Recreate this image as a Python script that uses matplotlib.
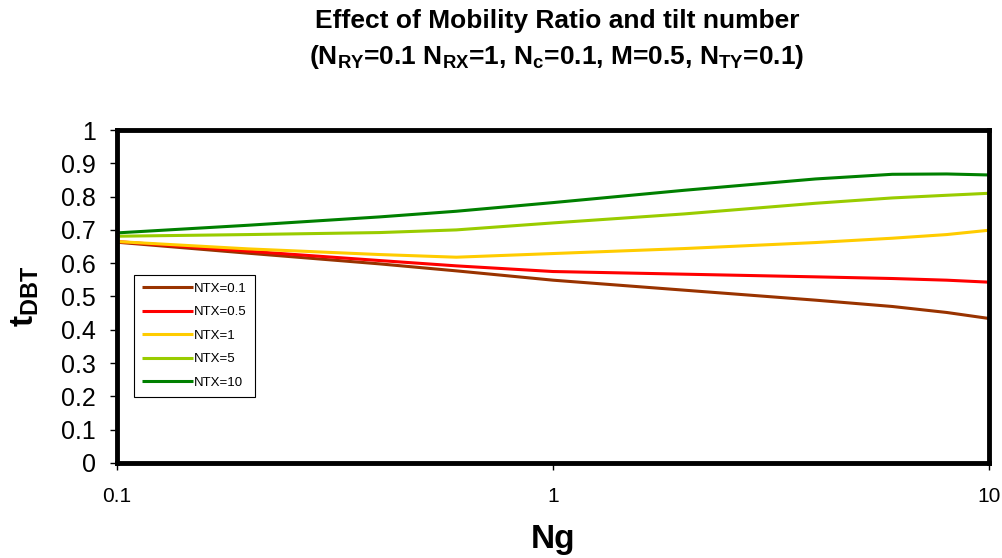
import numpy as np
import matplotlib.pyplot as plt
from matplotlib.ticker import FixedLocator, FixedFormatter, NullLocator

plt.rcParams['font.family'] = ['Liberation Sans', 'DejaVu Sans']
plt.rcParams['mathtext.fontset'] = 'custom'
plt.rcParams['mathtext.rm'] = 'Liberation Sans'
plt.rcParams['mathtext.bf'] = 'Liberation Sans:bold'

# gravity number values and t_DBT for each NTX curve
ng = [0.1, 0.2, 0.4, 0.6, 1, 2, 4, 6, 8, 10]
ntx_01 = [0.663, 0.630, 0.598, 0.577, 0.549, 0.519, 0.489, 0.470, 0.452, 0.434]
ntx_05 = [0.665, 0.636, 0.608, 0.592, 0.575, 0.567, 0.559, 0.554, 0.549, 0.543]
ntx_1 = [0.665, 0.643, 0.626, 0.618, 0.629, 0.644, 0.662, 0.675, 0.686, 0.699]
ntx_5 = [0.681, 0.686, 0.692, 0.700, 0.721, 0.748, 0.780, 0.796, 0.804, 0.810]
ntx_10 = [0.691, 0.714, 0.739, 0.756, 0.782, 0.819, 0.853, 0.867, 0.868, 0.865]

series = [('NTX=0.1', ntx_01, '#993300'),
          ('NTX=0.5', ntx_05, '#FF0000'),
          ('NTX=1', ntx_1, '#FFCC00'),
          ('NTX=5', ntx_5, '#99CC00'),
          ('NTX=10', ntx_10, '#008000')]

fig = plt.figure(figsize=(10.02, 5.58), dpi=100)
ax = fig.add_axes([0.1168, 0.1703, 0.8702, 0.5967])

for label, vals, col in series:
    ax.plot(ng, vals, color=col, lw=2.2, label=label, solid_capstyle='butt')

ax.set_xscale('log')
ax.set_xlim(0.1, 10)
ax.set_ylim(0, 1)
ax.xaxis.set_major_locator(FixedLocator([0.1, 1, 10]))
ax.xaxis.set_major_formatter(FixedFormatter(['0.1', '1', '10']))
ax.xaxis.set_minor_locator(NullLocator())
ax.set_yticks(np.arange(0, 1.01, 0.1))
ax.set_yticklabels(['0'] + ['%.1f' % v for v in np.arange(0.1, 0.95, 0.1)] + ['1'])

ax.tick_params(axis='y', direction='out', length=5, width=1, labelsize=18, pad=10)
ax.tick_params(axis='x', direction='out', length=5, width=1, labelsize=15, pad=12)
for s in ax.spines.values():
    s.set_linewidth(3.5)

ax.set_xlabel('Ng', fontsize=24, fontweight='bold', labelpad=13)
ax.set_ylabel(r't$_{\mathbf{DBT}}$', fontsize=24, fontweight='bold')
ax.yaxis.set_label_coords(-0.087, 0.5)

fig.text(0.556, 0.962, 'Effect of Mobility Ratio and tilt number',
         ha='center', va='center', fontsize=19, fontweight='bold')
fig.text(0.556, 0.898,
         r'(N$_{\mathbf{RY}}$=0.1 N$_{\mathbf{RX}}$=1, N$_{\mathbf{c}}$=0.1, M=0.5, N$_{\mathbf{TY}}$=0.1)',
         ha='center', va='center', fontsize=19, fontweight='bold')

leg = ax.legend(loc='upper left', bbox_to_anchor=(0.02, 0.565), fontsize=9.5,
                frameon=True, fancybox=False, edgecolor='black', framealpha=1,
                handlelength=3.8, handletextpad=0.1, labelspacing=0.85,
                borderpad=0.6, borderaxespad=0)
leg.get_frame().set_linewidth(0.8)

fig.savefig('out.png', dpi=100)
